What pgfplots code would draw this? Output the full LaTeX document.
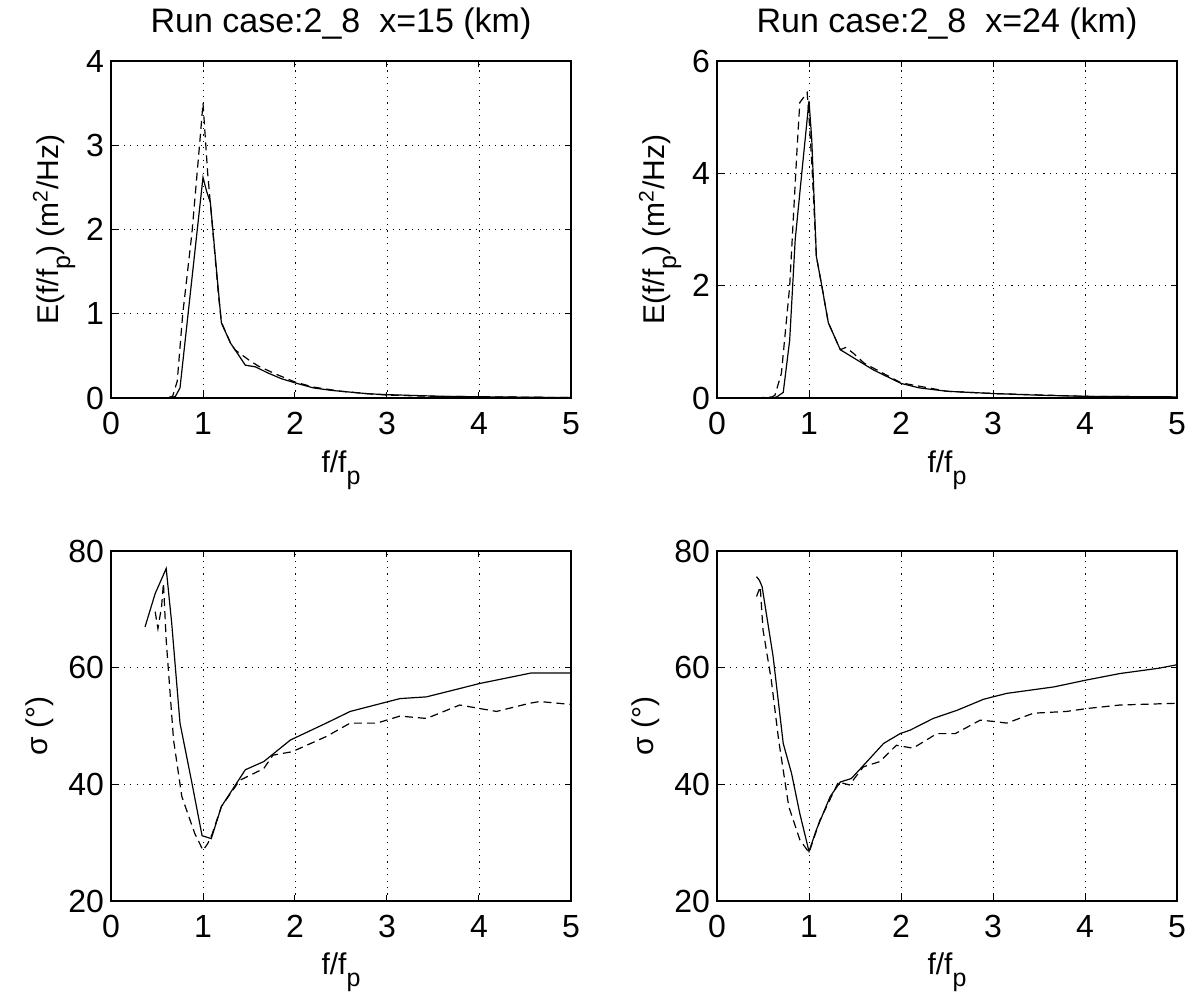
\documentclass[border=0pt]{standalone}
\usepackage{pgfplots}
\pgfplotsset{compat=1.18}
\usepackage{fontspec}
\setmainfont{Liberation Sans}
\newcommand{\subp}{\raisebox{-6pt}{\fontsize{12.5}{14}\selectfont p}}

\pgfplotstableread{
x y
0.35 0
0.5 0
0.65 0
0.7 0.02
0.75 0.12
0.8 0.62
0.85 1.12
0.9 1.62
0.95 2.12
1.0 2.62
1.04 2.45
1.08 2.32
1.14 1.6
1.2 0.89
1.3 0.65
1.35 0.57
1.46 0.39
1.57 0.37
1.7 0.3
1.85 0.23
2.0 0.18
2.2 0.12
2.4 0.09
2.6 0.07
2.8 0.05
3.0 0.04
3.3 0.03
3.6 0.02
4.0 0.015
4.5 0.01
5.0 0.005
}\TLs
\pgfplotstableread{
x y
0.35 0
0.6 0
0.67 0.02
0.72 0.2
0.78 1.0
0.88 1.96
0.97 3.1
1.0 3.5
1.05 2.68
1.17 1.2
1.2 0.9
1.3 0.65
1.35 0.57
1.5 0.45
1.6 0.38
1.8 0.28
2.0 0.19
2.2 0.13
2.5 0.08
2.8 0.05
3.0 0.035
3.5 0.02
4.0 0.015
5.0 0.005
}\TLd
\pgfplotstableread{
x y
0.43 0
0.6 0
0.65 0.02
0.72 0.1
0.79 1.03
0.85 2.82
0.94 4.31
1.0 5.29
1.03 4.6
1.08 2.52
1.14 1.99
1.21 1.34
1.34 0.86
1.5 0.7
1.7 0.5
2.0 0.26
2.2 0.18
2.5 0.12
3.0 0.08
3.5 0.05
4.0 0.03
5.0 0.02
}\TRs
\pgfplotstableread{
x y
0.43 0
0.6 0.02
0.63 0.05
0.7 0.44
0.79 1.99
0.87 4.43
0.90 5.26
0.98 5.44
1.0 5.0
1.03 4.2
1.08 2.52
1.14 1.99
1.21 1.34
1.34 0.86
1.4 0.9
1.48 0.8
1.6 0.62
2.0 0.27
2.5 0.12
3.0 0.08
4.0 0.03
5.0 0.02
}\TRd
\pgfplotstableread{
x y
0.37 67.0
0.48 72.7
0.6 77.0
0.66 67.6
0.75 50.5
0.88 40.2
0.99 31.2
1.09 30.7
1.2 36.2
1.46 42.5
1.66 43.9
1.95 47.6
2.34 50.5
2.6 52.5
3.14 54.7
3.43 55.0
4.01 57.3
4.57 59.1
5.0 59.1
}\BLs
\pgfplotstableread{
x y
0.48 69.6
0.51 66.7
0.55 70.5
0.57 74.5
0.6 64.7
0.68 47.6
0.77 37.9
0.91 31.6
1.0 28.7
1.05 29.8
1.1 31.5
1.2 36.2
1.4 40.7
1.66 42.7
1.76 45.0
1.97 45.6
2.34 48.2
2.6 50.5
2.89 50.5
3.14 51.7
3.43 51.3
3.79 53.6
4.19 52.5
4.55 53.9
4.66 54.2
4.93 53.8
5.0 53.7
}\BLd
\pgfplotstableread{
x y
0.43 75.6
0.46 75.0
0.49 73.9
0.61 61.9
0.72 47.0
0.81 41.9
0.9 35.0
1.0 28.5
1.08 32.2
1.23 37.9
1.34 40.4
1.46 41.0
1.63 43.9
1.81 47.0
1.99 48.7
2.1 49.3
2.35 51.3
2.61 52.7
2.9 54.6
3.15 55.6
3.66 56.7
4.02 57.9
4.38 59.0
4.8 59.9
5.0 60.5
}\BRs
\pgfplotstableread{
x y
0.43 72.2
0.47 73.9
0.5 66.5
0.59 57.9
0.67 47.6
0.78 36.2
0.9 30.5
1.0 28.3
1.12 33.9
1.32 40.4
1.44 39.9
1.59 43.0
1.77 43.9
1.95 46.7
2.13 46.2
2.39 48.7
2.59 48.7
2.86 51.0
3.0 50.8
3.15 50.5
3.44 52.2
3.8 52.5
4.02 53.0
4.38 53.6
5.0 53.9
}\BRd

\pgfplotsset{
  every axis title shift=0pt,
  mstyle/.style={
    scale only axis, width=230pt,
    anchor=south west,
    xmin=0, xmax=5, xtick={0,1,2,3,4,5},
    font=\fontsize{15}{18}\selectfont,
    tick label style={font=\fontsize{16}{19}\selectfont},
    xticklabel style={yshift=-3.5pt},
    /pgf/number format/assume math mode=true,
    tick align=inside, major tick length=3pt,
    xtick pos=both, ytick pos=both,
    grid=major,
    major grid style={black, line width=0.4pt, dash pattern=on 0.6pt off 2.6pt},
    axis line style={black, line width=0.6pt},
    tick style={black, line width=0.5pt},
    xlabel={f/f\subp},
    title style={at={(axis description cs:0.5,1.086)}, anchor=base, font=\fontsize{17}{20}\selectfont},
  },
  sol/.style={black, line width=0.6pt, solid},
  das/.style={black, line width=0.6pt, dash pattern=on 4pt off 2.5pt},
}

\begin{document}
\begin{tikzpicture}
\useasboundingbox (0,0) rectangle (597pt,-501.5pt);

\begin{axis}[mstyle, at={(55.5pt,-199pt)}, height=168.5pt,
  ymin=0, ymax=4, ytick={0,1,2,3,4},
  title={Run case:2\_8\ \ x=15 (km)},
  ylabel={E(f/f\subp) (m\textsuperscript{2}/Hz)},
  ylabel style={at={(axis description cs:-0.115,0.5)}, anchor=base},
  xlabel style={at={(axis description cs:0.5,-0.2196)}, anchor=base},
]
\addplot[sol] table[x=x,y=y] {\TLs};
\addplot[das] table[x=x,y=y] {\TLd};
\end{axis}

\begin{axis}[mstyle, at={(358.5pt,-199pt)}, height=168.5pt,
  ymin=0, ymax=6, ytick={0,2,4,6},
  title={Run case:2\_8\ \ x=24 (km)},
  ylabel={E(f/f\subp) (m\textsuperscript{2}/Hz)},
  ylabel style={at={(axis description cs:-0.115,0.5)}, anchor=base},
  xlabel style={at={(axis description cs:0.5,-0.2196)}, anchor=base},
]
\addplot[sol] table[x=x,y=y] {\TRs};
\addplot[das] table[x=x,y=y] {\TRd};
\end{axis}

\begin{axis}[mstyle, at={(55.5pt,-450.5pt)}, height=175pt,
  ymin=20, ymax=80, ytick={20,40,60,80},
  ylabel={σ (°)},
  ylabel style={at={(axis description cs:-0.139,0.5)}, anchor=base},
  xlabel style={at={(axis description cs:0.5,-0.211)}, anchor=base},
]
\addplot[sol] table[x=x,y=y] {\BLs};
\addplot[das] table[x=x,y=y] {\BLd};
\end{axis}

\begin{axis}[mstyle, at={(358.5pt,-450.5pt)}, height=175pt,
  ymin=20, ymax=80, ytick={20,40,60,80},
  ylabel={σ (°)},
  ylabel style={at={(axis description cs:-0.139,0.5)}, anchor=base},
  xlabel style={at={(axis description cs:0.5,-0.211)}, anchor=base},
]
\addplot[sol] table[x=x,y=y] {\BRs};
\addplot[das] table[x=x,y=y] {\BRd};
\end{axis}
\end{tikzpicture}
\end{document}
